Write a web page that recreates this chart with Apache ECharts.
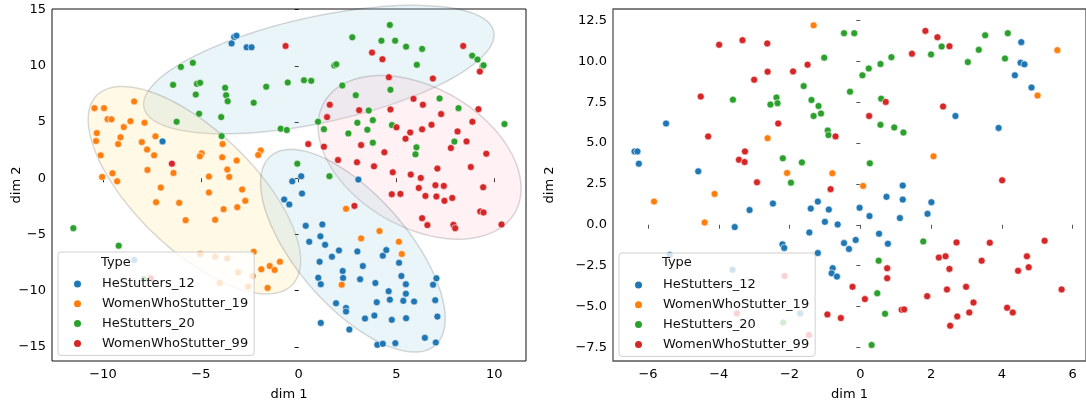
<!DOCTYPE html>
<html>
<head>
<meta charset="utf-8">
<script src="https://cdn.jsdelivr.net/npm/echarts@6/dist/echarts.min.js"></script>
<style>
  html, body { margin: 0; padding: 0; background: #fff; }
  #chart { width: 1086px; height: 406px; }
</style>
</head>
<body>
<div id="chart"></div>
<script>
// class names, shared by both panels
var types = ['HeStutters_12', 'WomenWhoStutter_19', 'HeStutters_20', 'WomenWhoStutter_99'];
var colors = ['#1f77b4', '#ff7f0e', '#2ca02c', '#d62728'];

// ---- left panel points [dim1, dim2] ----
var leftHe12 = [[-3.30,12.57],[-3.18,12.69],[-3.43,12.0],[-2.66,11.65],[-2.41,11.65],[-6.96,3.28],[-8.41,-7.28],
  [-0.33,-0.27],[0.13,0.18],[3.05,-0.12],[0.17,-1.36],[-0.74,-1.89],[-0.48,-2.33],[0.36,-4.23],[1.21,-4.11],
  [1.11,-5.17],[0.54,-5.65],[1.35,-5.92],[2.06,-6.42],[1.70,-6.98],[3.0,-6.51],[1.07,-7.43],[2.25,-8.25],
  [2.27,-8.87],[1.0,-8.85],[1.13,-9.43],[3.14,-8.99],[3.28,-7.81],[4.30,-6.89],[4.48,-6.39],[5.13,-7.52],
  [5.25,-8.70],[5.48,-9.43],[3.92,-9.32],[4.60,-10.05],[5.48,-10.27],[4.66,-10.80],[5.35,-10.91],[5.90,-10.97],
  [3.99,-11.03],[1.91,-11.12],[2.42,-11.54],[2.42,-11.86],[3.39,-12.48],[3.87,-12.22],[4.76,-12.60],[5.49,-12.45],
  [6.87,-9.47],[7.04,-8.90],[6.98,-10.85],[7.09,-12.31],[1.13,-12.87],[2.59,-13.46],[6.45,-14.20],[7.01,-14.61],
  [4.94,-14.67],[4.02,-14.82],[4.30,-14.73]];
var leftWws19 = [[-10.44,6.24],[-9.95,6.24],[-8.41,6.83],[-9.77,5.26],[-9.57,5.24],[-8.94,4.55],[-8.60,5.08],
  [-7.88,4.94],[-10.32,4.02],[-10.36,3.31],[-9.11,3.64],[-9.23,3.04],[-10.12,2.04],[-8.02,3.22],[-7.32,3.73],
  [-7.75,2.55],[-7.39,2.04],[-10.05,0.12],[-9.52,0.44],[-9.28,-0.27],[-7.73,0.74],[-6.40,0.47],[-7.05,-0.83],
  [-3.89,3.04],[-4.96,2.22],[-5.05,1.95],[-3.91,1.86],[-3.17,1.57],[-3.65,0.77],[-3.55,0.12],[-4.59,0.15],
  [-2.89,-1.0],[-4.59,-1.27],[-1.94,2.48],[-2.07,2.07],[-7.29,-2.13],[-6.11,-2.19],[-3.84,-2.75],[-3.14,-2.57],
  [-2.73,-2.01],[-5.78,-3.73],[-4.27,-3.70],[-2.30,-6.54],[-5.04,-6.74],[-4.27,-6.98],[-3.65,-7.13],[-3.09,-8.37],
  [-2.35,-8.70],[-4.04,-9.32],[-2.58,-9.64],[-1.91,-8.10],[-1.48,-7.81],[-1.23,-8.16],[-1.59,-9.76],[-0.96,-7.43],
  [2.42,-2.72],[4.13,-4.70],[3.19,-5.35],[5.12,-5.65],[5.27,-6.74],[2.20,-9.47]];
var leftHe20 = [[-6.02,9.91],[-5.41,10.27],[-6.42,8.31],[-5.20,8.40],[-5.04,8.49],[-5.26,7.45],[-3.76,8.05],
  [-3.71,7.39],[-3.63,6.86],[-5.09,5.74],[-3.96,5.44],[-6.24,5.03],[-2.30,6.72],[-1.66,8.14],[-3.94,3.75],
  [-0.92,4.41],[-0.61,4.29],[-11.52,-4.44],[-9.20,-6.0],[-7.92,-8.96],[4.66,13.64],[2.74,12.54],[4.23,12.24],
  [4.93,12.24],[5.49,11.71],[6.31,11.51],[6.04,10.09],[8.87,10.91],[9.14,10.56],[9.40,9.97],[9.45,10.05],
  [1.82,10.03],[1.92,10.14],[-0.56,8.52],[0.27,8.72],[0.64,8.67],[2.23,8.25],[2.92,7.39],[4.69,7.87],[7.20,7.10],
  [8.17,6.24],[3.58,6.03],[3.79,5.17],[3.0,4.94],[3.51,4.32],[2.54,3.99],[4.77,4.73],[0.99,5.03],[1.29,4.37],
  [3.79,3.17],[6.02,2.75],[5.97,2.13],[7.96,3.26],[10.52,4.82],[-0.07,1.30],[1.57,0.18]];
var leftWws99 = [[-6.48,1.30],[-7.56,-8.90],[-0.67,11.77],[3.75,11.18],[4.28,10.59],[8.41,11.77],[9.26,9.49],
  [4.61,8.99],[6.86,8.87],[1.59,6.54],[1.45,5.44],[3.09,6.06],[4.69,6.12],[5.87,7.07],[6.35,6.54],[7.28,5.71],
  [9.19,6.15],[8.88,5.03],[5.0,4.53],[5.70,4.08],[6.31,4.35],[6.79,4.76],[5.46,3.52],[8.12,4.17],[8.58,3.28],
  [7.78,2.69],[3.19,2.95],[4.38,2.31],[0.49,3.04],[1.29,2.81],[2.01,1.62],[2.98,1.42],[3.85,1.06],[4.81,0.53],
  [5.73,0.33],[6.24,0.03],[7.09,0.86],[8.80,1.0],[9.59,2.19],[6.14,-0.86],[6.99,-0.62],[7.42,-0.68],[9.43,-0.80],
  [2.85,-2.46],[4.76,-1.42],[5.20,-1.39],[6.48,-1.57],[7.04,-1.62],[7.45,-2.01],[7.85,-1.75],[6.31,-3.55],
  [6.58,-4.17],[7.91,-4.14],[8.0,-4.44],[9.28,-2.95],[9.45,-3.04],[10.37,-4.11]];

// ---- right panel points ----
var rightHe12 = [[-6.38,4.49],[-6.30,4.49],[-6.26,3.74],[-5.49,6.20],[-4.58,3.27],[-3.55,-0.14],[-3.13,0.90],
  [-2.47,1.30],[-1.40,0.99],[-1.20,1.42],[-1.44,-0.47],[-2.20,-1.20],[-2.15,-1.42],[-1.20,-1.73],[-5.39,-1.85],
  [-3.61,-2.76],[-1.70,-5.43],[4.55,11.18],[4.53,9.92],[4.64,9.82],[4.37,9.15],[4.84,8.40],[2.69,6.66],[3.91,5.93],
  [1.20,2.40],[0.74,1.71],[1.20,1.54],[2.01,1.38],[1.90,0.67],[1.12,0.41],[-0.89,0.93],[-0.02,1.04],[0.26,0.53],
  [-1.0,0.18],[-0.64,0.02],[0.53,-0.55],[-0.46,-1.12],[-0.32,-1.48],[-0.13,-0.93],[0.78,-1.16],[-0.78,-2.66],
  [-0.81,-2.97],[-0.66,-3.17]];
var rightWws19 = [[-1.32,12.21],[-2.62,5.30],[-2.07,3.17],[-4.12,1.89],[-5.83,1.42],[-4.40,0.14],[5.57,10.69],
  [5.01,7.91],[2.07,4.19],[-0.79,3.15],[0.08,2.38]];
var rightHe20 = [[-3.60,7.66],[-2.37,7.79],[-2.34,7.44],[-2.54,7.36],[-1.60,8.49],[-1.38,7.64],[-1.32,6.66],
  [-1.18,7.27],[-2.19,4.07],[-1.65,3.82],[-1.96,2.58],[-2.18,-5.98],[-0.46,11.73],[-0.17,11.73],[-1.02,10.23],
  [-1.11,6.81],[-0.92,5.77],[-0.90,5.49],[0.06,9.15],[0.24,9.57],[0.57,9.84],[0.88,10.26],[-0.29,8.15],[0.59,7.72],
  [0.57,6.12],[0.96,5.96],[1.22,5.65],[0.27,3.76],[2.0,10.43],[2.30,10.91],[3.04,9.96],[3.35,10.71],[3.53,11.60],
  [4.17,11.73],[4.09,10.18],[1.78,-1.02],[0.52,-2.20],[0.48,-4.19],[0.70,-5.45],[0.32,-7.36]];
var rightWws99 = [[-3.99,11.02],[-3.33,11.30],[-2.63,11.10],[-1.49,9.80],[-3.0,8.88],[-2.62,9.37],[-1.90,9.39],
  [-4.51,7.85],[-2.32,6.20],[-4.30,5.41],[-3.26,4.49],[-3.43,3.98],[-3.27,3.84],[-2.92,2.60],[-2.14,-3.13],
  [-3.49,-5.43],[-1.45,-6.75],[-0.70,5.41],[0.25,6.66],[0.72,7.52],[1.46,10.47],[1.84,11.87],[2.18,11.48],
  [2.52,10.93],[2.34,7.24],[4.01,2.72],[-0.84,2.18],[2.72,-1.08],[3.66,-1.10],[5.21,-0.98],[2.22,-2.01],
  [2.41,-1.93],[2.52,-2.70],[3.43,-2.20],[4.71,-1.93],[4.76,-2.60],[4.46,-2.82],[0.76,-2.66],[0.76,-3.27],
  [-0.22,-3.80],[2.45,-3.96],[2.99,-3.80],[5.69,-3.96],[0.13,-4.55],[1.89,-4.37],[3.20,-4.76],[4.15,-5.08],
  [4.31,-5.37],[3.08,-5.37],[2.74,-5.61],[2.54,-6.18],[1.17,-5.20],[1.24,-5.18],[-0.93,-5.49],[-0.55,-5.71]];

// cluster ellipses on the left panel: [cx, cy, sd x, sd y, correlation, fill index]
var leftEllipses = [
  [1.03, 9.67, 8.96, 5.72, 0.54, 0],
  [-5.33, -1.06, 5.43, 9.23, -0.68, 1],
  [6.18, 1.86, 5.19, 7.28, -0.38, 2],
  [2.77, -6.45, 4.72, 9.02, -0.67, 0]
];
var ellipseFills = ['rgba(173,216,230,0.25)', 'rgba(255,226,140,0.22)', 'rgba(255,192,203,0.22)'];

var leftXTicks = [-10, -5, 0, 5, 10];
var leftYTicks = [-15, -10, -5, 0, 5, 10, 15];
var rightXTicks = [-6, -4, -2, 0, 2, 4, 6];
var rightYTicks = [-7.5, -5, -2.5, 0, 2.5, 5, 7.5, 10, 12.5];

var font = '"DejaVu Sans", sans-serif';
var ink = '#000';

function minus(s) { return String(s).replace('-', '\u2212'); }

function renderEllipse(params, api) {
  var cx = api.value(0), cy = api.value(1), sx = api.value(2), sy = api.value(3), r = api.value(4);
  var k = Math.sqrt(1 - r * r);
  var pts = [];
  for (var i = 0; i <= 120; i++) {
    var t = Math.PI * 2 * i / 120;
    pts.push(api.coord([cx + sx * Math.cos(t), cy + sy * (r * Math.cos(t) + k * Math.sin(t))]));
  }
  return {
    type: 'polygon', shape: { points: pts },
    style: { fill: ellipseFills[api.value(5)], stroke: 'rgba(0,0,0,0.15)', lineWidth: 1.5 }
  };
}

function valAxis(idx, min, max, ticks, fmt, name, gap, isX, lineColor) {
  return {
    type: 'value', gridIndex: idx, min: min, max: max,
    name: name, nameLocation: 'middle', nameGap: gap, nameMoveOverlap: false,
    nameTextStyle: { color: ink, fontSize: 13, fontFamily: font },
    axisLine: { show: false },
    axisTick: { show: true, length: 4, customValues: ticks, lineStyle: { color: lineColor, width: 1 } },
    axisLabel: { customValues: ticks, color: ink, fontSize: 13, fontFamily: font, margin: isX ? 7 : 6,
      formatter: function(v) { return minus(fmt(v)); } },
    splitLine: { show: false }
  };
}

function scatter(name, data, ci, panel) {
  return {
    name: name, type: 'scatter', xAxisIndex: panel, yAxisIndex: panel, data: data,
    symbolSize: 7, z: 3,
    itemStyle: { color: colors[ci], borderColor: '#fff', borderWidth: 0.6, opacity: 1 },
    emphasis: { disabled: true }
  };
}

var legendText = { color: '#111', fontSize: 13, fontFamily: font, lineHeight: 15, padding: [0, 0, 0, 15] };

function legendBox(left, top) {
  return {
    orient: 'vertical', left: left, top: top, icon: 'circle',
    data: types.map(function(n) { return { name: n, textStyle: legendText }; }),
    itemWidth: 9, itemHeight: 9, itemGap: 4.8,
    padding: [24.5, 6, 4.5, 14], z: 10,
    backgroundColor: 'rgba(255,255,255,0.8)', borderColor: '#d0d0d0', borderWidth: 1, borderRadius: 3,
    textStyle: legendText,
    selectedMode: false
  };
}

var chart = echarts.init(document.getElementById('chart'), null, { renderer: 'canvas' });
chart.setOption({
  animation: false,
  backgroundColor: '#fff',
  textStyle: { fontFamily: font, fontSize: 13 },
  title: [
    { text: 'Type', left: 101, top: 256.5, padding: 0, z: 11,
      textStyle: { color: '#111', fontSize: 13, fontWeight: 'normal', fontFamily: font } },
    { text: 'Type', left: 662, top: 256.5, padding: 0, z: 11,
      textStyle: { color: '#111', fontSize: 13, fontWeight: 'normal', fontFamily: font } }
  ],
  legend: [legendBox(58, 252), legendBox(619, 253)],
  grid: [
    { left: 52, top: 9, width: 474, height: 353, show: true, borderColor: '#111', borderWidth: 1, backgroundColor: 'transparent' },
    { left: 613, top: 9, width: 477, height: 354, show: true, borderColor: '#555', borderWidth: 1.3, backgroundColor: 'transparent' }
  ],
  xAxis: [
    valAxis(0, -12.61, 11.62, leftXTicks, function(v) { return v.toFixed(0); }, 'dim 1', 27, true, '#111'),
    valAxis(1, -6.99, 6.38, rightXTicks, function(v) { return v.toFixed(0); }, 'dim 1', 27, true, '#555')
  ],
  yAxis: [
    valAxis(0, -16.26, 15.06, leftYTicks, function(v) { return v.toFixed(0); }, 'dim 2', 29, false, '#111'),
    valAxis(1, -8.34, 13.21, rightYTicks, function(v) { return v.toFixed(1); }, 'dim 2', 57, false, '#555')
  ],
  series: [
    { type: 'custom', xAxisIndex: 0, yAxisIndex: 0, data: leftEllipses, renderItem: renderEllipse,
      clip: false, z: 1, silent: true, encode: { x: 0, y: 1 } },
    scatter(types[0], leftHe12, 0, 0),
    scatter(types[1], leftWws19, 1, 0),
    scatter(types[2], leftHe20, 2, 0),
    scatter(types[3], leftWws99, 3, 0),
    scatter(types[0], rightHe12, 0, 1),
    scatter(types[1], rightWws19, 1, 1),
    scatter(types[2], rightHe20, 2, 1),
    scatter(types[3], rightWws99, 3, 1)
  ]
});
window.addEventListener('resize', function() { chart.resize(); });
</script>
</body>
</html>
